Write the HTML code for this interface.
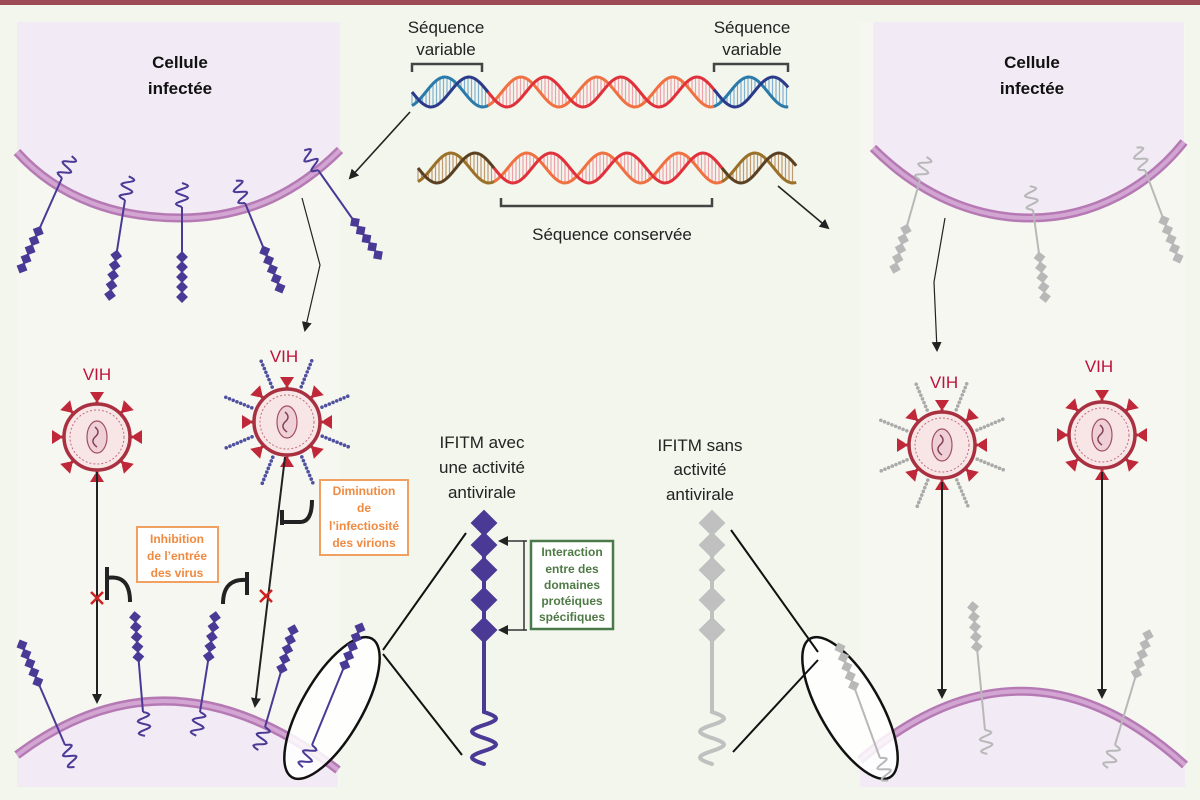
<!DOCTYPE html>
<html><head><meta charset="utf-8"><style>
body{margin:0;background:#f3f6ed;}
svg{display:block}
text{font-family:"Liberation Sans",sans-serif}
</style></head><body>
<svg id="s" width="1200" height="800" viewBox="0 0 1200 800" xmlns="http://www.w3.org/2000/svg">
<defs>
<marker id="ah" markerWidth="10" markerHeight="10" refX="8" refY="5" orient="auto" markerUnits="userSpaceOnUse"><path d="M0,0 L10,5 L0,10 z" fill="#222"/></marker>
</defs>
<rect width="1200" height="800" fill="#f3f6ed"/>
<rect x="0" y="0" width="1200" height="5" fill="#9c4a55"/>
<rect x="17" y="22" width="323" height="765" fill="#f5f7f0"/>
<rect x="860" y="22" width="325" height="765" fill="#f5f7f0"/>
<!-- top-left cell -->
<path d="M17,152 C60,200 120,218 180,218 C250,218 300,190 340,150 V22 H17 Z" fill="#f2eaf5"/>
<path d="M17,152 C60,200 120,218 180,218 C250,218 300,190 340,150" fill="none" stroke="#b57ab4" stroke-width="9"/>
<path d="M17,152 C60,200 120,218 180,218 C250,218 300,190 340,150" fill="none" stroke="#d3a5d3" stroke-width="4"/>
<!-- top-right cell -->
<path d="M873,148 C920,195 975,218 1030,218 C1095,218 1150,185 1184,142 V22 H873 Z" fill="#f2eaf5"/>
<path d="M873,148 C920,195 975,218 1030,218 C1095,218 1150,185 1184,142" fill="none" stroke="#b57ab4" stroke-width="9"/>
<path d="M873,148 C920,195 975,218 1030,218 C1095,218 1150,185 1184,142" fill="none" stroke="#d3a5d3" stroke-width="4"/>
<!-- bottom-left cell -->
<path d="M17,755 Q170,640 338,770 V787 H17 Z" fill="#f2eaf5"/>
<path d="M17,755 Q170,640 338,770" fill="none" stroke="#b57ab4" stroke-width="9"/>
<path d="M17,755 Q170,640 338,770" fill="none" stroke="#d3a5d3" stroke-width="4"/>
<!-- bottom-right cell -->
<path d="M860,760 Q1025,620 1185,765 V787 H860 Z" fill="#f2eaf5"/>
<path d="M860,760 Q1025,620 1185,765" fill="none" stroke="#b57ab4" stroke-width="9"/>
<path d="M860,760 Q1025,620 1185,765" fill="none" stroke="#d3a5d3" stroke-width="4"/>

<g id="dyn"></g>

<text x="180" y="68" font-size="17" font-weight="bold" text-anchor="middle" fill="#111">Cellule</text>
<text x="180" y="94" font-size="17" font-weight="bold" text-anchor="middle" fill="#111">infectée</text>
<text x="1032" y="68" font-size="17" font-weight="bold" text-anchor="middle" fill="#111">Cellule</text>
<text x="1032" y="94" font-size="17" font-weight="bold" text-anchor="middle" fill="#111">infectée</text>

<g font-size="17" fill="#222" text-anchor="middle">
<text x="446" y="33">Séquence</text><text x="446" y="55">variable</text>
<text x="752" y="33">Séquence</text><text x="752" y="55">variable</text>
<text x="612" y="240">Séquence conservée</text>
<text x="482" y="448">IFITM avec</text><text x="482" y="473">une activité</text><text x="482" y="498">antivirale</text>
<text x="700" y="451">IFITM sans</text><text x="700" y="475">activité</text><text x="700" y="500">antivirale</text>
</g>
<g font-size="17" fill="#c0103a" text-anchor="middle">
<text x="97" y="380">VIH</text><text x="284" y="362">VIH</text>
<text x="944" y="388">VIH</text><text x="1099" y="372">VIH</text>
</g>
<g fill="none" stroke="#444" stroke-width="2.5">
<path d="M412,72 V64 H482 V72"/><path d="M714,72 V64 H788 V72"/><path d="M501,198 V206 H712 V198"/>
</g>
<g stroke="#222" stroke-width="1.6" fill="none">
<line x1="410" y1="112" x2="350" y2="178" marker-end="url(#ah)"/>
<line x1="778" y1="186" x2="828" y2="228" marker-end="url(#ah)"/>
<polyline points="302,198 320,265 305,330" stroke-width="1.2" marker-end="url(#ah)"/>
<polyline points="945,218 934,282 937,350" stroke-width="1.2" marker-end="url(#ah)"/>
<line x1="97" y1="472" x2="97" y2="702" stroke-width="2" marker-end="url(#ah)"/>
<line x1="285" y1="457" x2="255" y2="706" stroke-width="2" marker-end="url(#ah)"/>
<line x1="942" y1="482" x2="942" y2="697" stroke-width="2" marker-end="url(#ah)"/>
<line x1="1102" y1="472" x2="1102" y2="697" stroke-width="2" marker-end="url(#ah)"/>
</g>
<g stroke="#d02020" stroke-width="2.5">
<path d="M91,592 L103,604 M103,592 L91,604"/><path d="M260,590 L272,602 M272,590 L260,602"/>
</g>
<g stroke="#222" stroke-width="4" fill="none">
<path d="M107,567 V600 M107,578 Q130,574 130,602"/>
<path d="M247,572 V595 M247,580 Q223,578 223,604"/>
<path d="M282,510 V525 M282,522 H300 Q312,522 312,500"/>
</g>
<rect x="137" y="527" width="81" height="55" fill="#fff" stroke="#f0a060" stroke-width="2"/>
<g font-size="12" font-weight="bold" fill="#f08a40" text-anchor="middle">
<text x="177" y="543">Inhibition</text><text x="177" y="560">de l’entrée</text><text x="177" y="577">des virus</text>
</g>
<rect x="320" y="480" width="88" height="75" fill="#fff" stroke="#f0a060" stroke-width="2"/>
<g font-size="12" font-weight="bold" fill="#f08a40" text-anchor="middle">
<text x="364" y="495">Diminution</text><text x="364" y="512">de</text><text x="364" y="530">l’infectiosité</text><text x="364" y="547">des virions</text>
</g>
<rect x="531" y="541" width="82" height="88" fill="#fff" stroke="#4a7a4a" stroke-width="2.5"/>
<g font-size="12" font-weight="bold" fill="#4f7a45" text-anchor="middle">
<text x="572" y="556">Interaction</text><text x="572" y="573">entre des</text><text x="572" y="589">domaines</text><text x="572" y="605">protéiques</text><text x="572" y="621">spécifiques</text>
</g>
<g stroke="#333" stroke-width="1.5" fill="none">
<polyline points="527,541 524,541 524,630 527,630"/>
<line x1="524" y1="541" x2="500" y2="541" marker-end="url(#ah)"/>
<line x1="524" y1="630" x2="500" y2="630" marker-end="url(#ah)"/>
</g>
<ellipse cx="332" cy="708" rx="30" ry="80" transform="rotate(30 332 708)" fill="#fff" fill-opacity="0.85" stroke="#111" stroke-width="2.5"/>
<ellipse cx="850" cy="708" rx="30" ry="80" transform="rotate(-30 850 708)" fill="#fff" fill-opacity="0.85" stroke="#111" stroke-width="2.5"/>
<g stroke="#111" stroke-width="2">
<line x1="383" y1="650" x2="466" y2="533"/><line x1="383" y1="654" x2="462" y2="755"/>
<line x1="731" y1="530" x2="818" y2="652"/><line x1="733" y1="752" x2="818" y2="660"/>
</g>
<g id="dyn2"></g>
</svg>
<script>
var NS="http://www.w3.org/2000/svg";
var g=document.getElementById('dyn'), g2=document.getElementById('dyn2');
function el(p,t,a){var e=document.createElementNS(NS,t);for(var k in a)e.setAttribute(k,a[k]);p.appendChild(e);return e;}
function dia(p,x,y,s,c,ang){el(p,'rect',{x:x-s,y:y-s,width:2*s,height:2*s,fill:c,transform:'rotate('+(45+ang)+' '+x+' '+y+')'});}
function prot(p,mx,my,ex,ey,c,n,s,sp){
  n=n||5;s=s||4.2;sp=sp||10;
  var dx=ex-mx,dy=ey-my,L=Math.hypot(dx,dy),ux=dx/L,uy=dy/L,px=-uy,py=ux;
  var ang=Math.atan2(dy,dx)*180/Math.PI;
  var d='M'+mx+','+my;
  for(var i=1;i<=24;i++){var t=i/24*24;var w=Math.sin(i/24*Math.PI*4)*6;d+=' L'+(mx-ux*t+px*w).toFixed(1)+','+(my-uy*t+py*w).toFixed(1);}
  el(p,'path',{d:d,fill:'none',stroke:c,'stroke-width':2});
  el(p,'line',{x1:mx,y1:my,x2:ex,y2:ey,stroke:c,'stroke-width':2});
  for(var j=0;j<n;j++)dia(p,ex-ux*sp*j,ey-uy*sp*j,s,c,ang);
}
var B='#4a3a96',G='#b8b8b8';
[[62,178,22,268],[125,200,110,295],[182,207,182,297],[245,203,280,288],[318,170,378,255]].forEach(function(a){prot(g,a[0],a[1],a[2],a[3],B);});
[[920,180,895,268],[1033,210,1045,297],[1145,170,1178,258]].forEach(function(a){prot(g,a[0],a[1],a[2],a[3],G);});
[[65,745,22,645],[143,712,135,617],[200,712,215,617],[265,727,293,630]].forEach(function(a){prot(g,a[0],a[1],a[2],a[3],B);});
[[985,730,973,607],[1115,745,1148,635]].forEach(function(a){prot(g,a[0],a[1],a[2],a[3],G);});
prot(g2,312,745,360,628,B);
prot(g2,880,758,840,648,G);
function big(x,c){
  var d='M'+x+',630 L'+x+',712';
  for(var i=1;i<=40;i++){var t=i/40;var y=712+t*52;var w=Math.sin(t*Math.PI*4)*12;d+=' L'+(x+w).toFixed(1)+','+y.toFixed(1);}
  el(g,'path',{d:d,fill:'none',stroke:c,'stroke-width':4,'stroke-linecap':'round'});
  el(g,'line',{x1:x,y1:523,x2:x,y2:630,stroke:c,'stroke-width':4});
  [523,545,570,600,630].forEach(function(y){dia(g,x,y,9.5,c,0);});
}
big(484,B);big(712,'#c0c0c0');
function dna(x0,x1,yc,amp,cols){
  var per=76,ph=2.0;
  function a(x){return yc+amp*Math.sin((x-x0)/per*2*Math.PI);}
  function b(x){return yc+amp*Math.sin((x-x0)/per*2*Math.PI+ph);}
  for(var x=x0;x<=x1;x+=3.5){var seg=cols(x);el(g,'line',{x1:x,y1:a(x),x2:x,y2:b(x),stroke:seg[2],'stroke-width':1.2});}
  for(var x=x0;x<x1;x+=2){var c=cols(x);
    el(g,'line',{x1:x,y1:b(x),x2:x+2.2,y2:b(x+2.2),stroke:c[1],'stroke-width':3});
    el(g,'line',{x1:x,y1:a(x),x2:x+2.2,y2:a(x+2.2),stroke:c[0],'stroke-width':3});}
}
dna(412,788,92,15,function(x){return (x<487||x>713)?['#2a3a8a','#2a7aaa','#7fb0d0']:['#e0303a','#f07040','#f0a0a8'];});
dna(418,795,168,15,function(x){return (x<493||x>720)?['#5a4020','#9a7028','#c09a70']:['#e0303a','#f07040','#f0a0a8'];});
function virus(cx,cy,grey,blue){
  var c=grey?'#aaa':'#5050a0';
  if(blue){for(var i=0;i<8;i++){var a=(i*45+22)*Math.PI/180;
    for(var r=38;r<70;r+=4)el(g,'circle',{cx:cx+r*Math.cos(a),cy:cy+r*Math.sin(a),r:1.8,fill:c});}}
  for(var i=0;i<8;i++){var a=(i*45-90)*Math.PI/180,ad=i*45;
    var x=cx+40*Math.cos(a),y=cy+40*Math.sin(a);
    el(g,'path',{d:'M-7,-5 L7,-5 L2,3 L-2,3 Z M-1.5,3 H1.5 V8 H-1.5 Z',fill:'#c0283a',transform:'translate('+x+','+y+') rotate('+ad+')'});}
  el(g,'circle',{cx:cx,cy:cy,r:33,fill:'#f8e6e6',stroke:'#a83040','stroke-width':3.5});
  el(g,'circle',{cx:cx,cy:cy,r:27,fill:'none',stroke:'#c07080','stroke-width':1,'stroke-dasharray':'2 2'});
  el(g,'ellipse',{cx:cx,cy:cy,rx:10,ry:16,fill:'#f0d0d8',stroke:'#a05060','stroke-width':1.2});
  el(g,'path',{d:'M'+(cx-2)+','+(cy-10)+' q6,5 0,10 q-5,5 2,10',fill:'none',stroke:'#804050','stroke-width':1.5});
}
virus(97,437,false,false);virus(287,422,false,true);virus(942,445,true,true);virus(1102,435,false,false);
</script>
</body></html>
